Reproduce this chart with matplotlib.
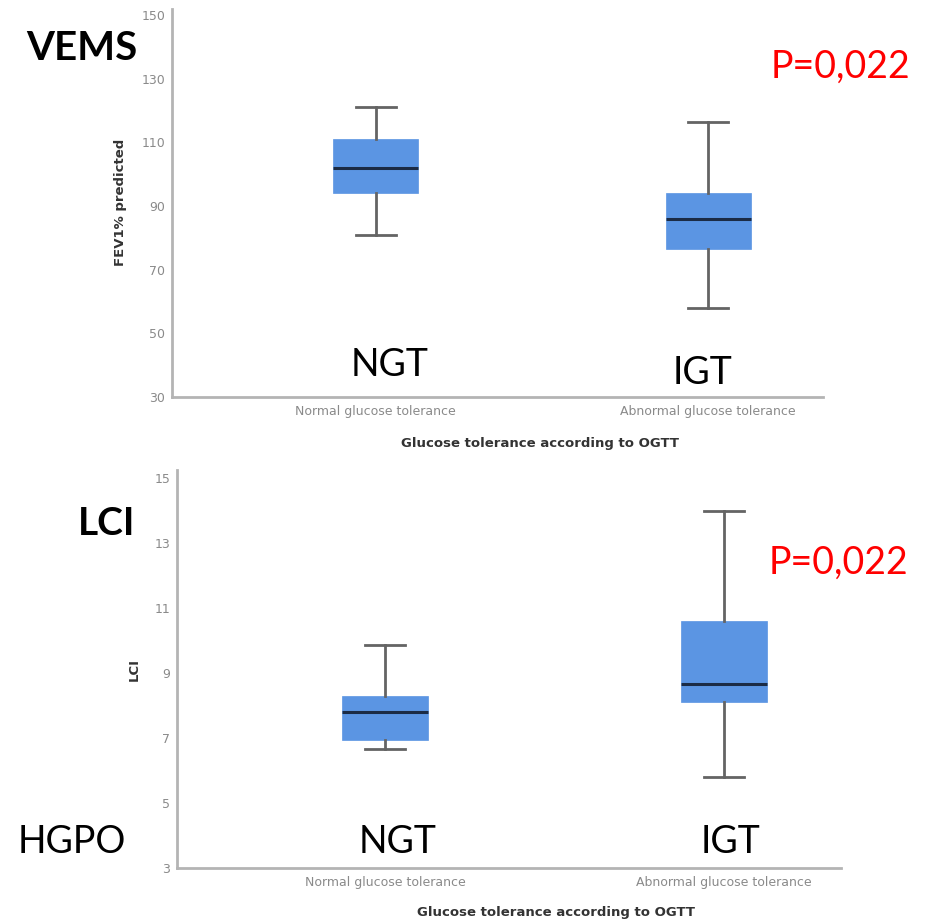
import matplotlib
matplotlib.use("Agg")
import matplotlib.pyplot as plt

# group labels and box summaries (whisker low, q1, median, q3, whisker high)
groups = ["Normal glucose tolerance", "Abnormal glucose tolerance"]
short_names = ["NGT", "IGT"]

fev_whislo = [81, 58]
fev_q1 = [94, 76.5]
fev_med = [102, 86]
fev_q3 = [111, 94]
fev_whishi = [121, 116.5]

lci_whislo = [6.65, 5.8]
lci_q1 = [6.95, 8.1]
lci_med = [7.8, 8.65]
lci_q3 = [8.3, 10.6]
lci_whishi = [9.85, 14.0]

fev_ticks = [30, 50, 70, 90, 110, 130, 150]
lci_ticks = [3, 5, 7, 9, 11, 13, 15]
p_value = "P=0,022"

W, H = 930, 922
fig = plt.figure(figsize=(W / 100, H / 100), dpi=100)
fig.patch.set_facecolor("white")

box_col = "#5b95e3"
grey_axis = "#b4b4b4"
tick_col = "#8a8a8a"


def px(x, y):
    return x / W, 1 - y / H


def make_stats(lo, q1, med, q3, hi):
    return [dict(whislo=a, q1=b, med=c, q3=d, whishi=e, fliers=[])
            for a, b, c, d, e in zip(lo, q1, med, q3, hi)]


def draw_panel(ax, stats, ticks, ylim, ylabel, ypad, xlab_pos):
    ax.bxp(stats, positions=[1, 2], widths=0.255, patch_artist=True,
           showfliers=False,
           boxprops=dict(facecolor=box_col, edgecolor=box_col, linewidth=0.5),
           medianprops=dict(color="#1b2b45", linewidth=2.2),
           whiskerprops=dict(color="#646464", linewidth=2),
           capprops=dict(color="#646464", linewidth=2),
           capwidths=0.12)
    ax.set_xlim(0.387, 2.345)
    ax.set_ylim(*ylim)
    ax.set_yticks(ticks)
    ax.set_xticks([1, 2])
    ax.set_xticklabels(groups)
    for s in ["top", "right"]:
        ax.spines[s].set_visible(False)
    for s in ["left", "bottom"]:
        ax.spines[s].set_color(grey_axis)
        ax.spines[s].set_linewidth(2)
    ax.tick_params(axis="both", length=0, colors=tick_col, labelsize=9)
    ax.tick_params(axis="x", pad=6)
    ax.tick_params(axis="y", pad=5)
    ax.set_ylabel(ylabel, fontsize=9.5, fontweight="bold", color="#333333", labelpad=ypad)
    ax.set_xlabel("Glucose tolerance according to OGTT", fontsize=9.5,
                  fontweight="bold", color="#333333")
    # axis title sits midway between the two groups, below the tick labels
    ax.xaxis.set_label_coords(*xlab_pos)


# FEV1 panel
ax1 = fig.add_axes([172 / W, (H - 397) / H, (823 - 172) / W, 388.4 / H])
draw_panel(ax1, make_stats(fev_whislo, fev_q1, fev_med, fev_q3, fev_whishi),
           fev_ticks, (30, 152), "FEV1% predicted", 10.5, (0.565, -40 / 388.4))

# LCI panel
ax2 = fig.add_axes([177 / W, (H - 868) / H, (841 - 177) / W, 398 / H])
draw_panel(ax2, make_stats(lci_whislo, lci_q1, lci_med, lci_q3, lci_whishi),
           lci_ticks, (3, 15.25), "LCI", 10, (0.571, -38 / 398))

big = dict(family="Lato", fontsize=27, ha="center", va="center")

fig.text(*px(82, 48), "VEMS", fontweight="bold", **dict(big, fontsize=29))
fig.text(*px(840, 67), p_value, color="red", **big)
fig.text(*px(390, 365), short_names[0], **big)
fig.text(*px(702, 373), short_names[1], **big)

fig.text(*px(107, 523), "LCI", fontweight="bold", **dict(big, fontsize=28))
fig.text(*px(838, 563), p_value, color="red", **big)
fig.text(*px(72, 842), "HGPO", **big)
fig.text(*px(398, 842), short_names[0], **big)
fig.text(*px(730, 842), short_names[1], **big)

fig.savefig("out.png", dpi=100, facecolor="white")
